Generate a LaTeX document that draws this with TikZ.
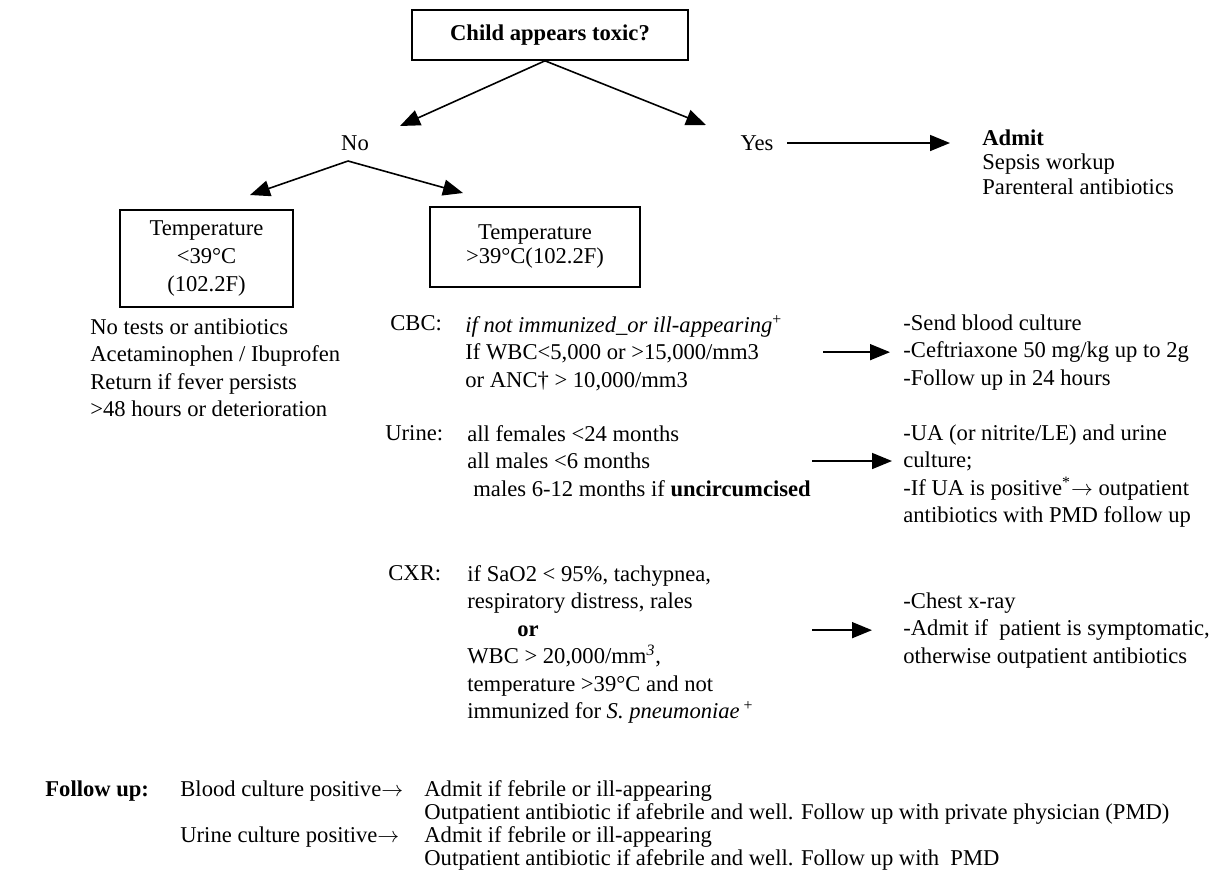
\documentclass[tikz,border=0pt]{standalone}
\usepackage{fontspec}
\setmainfont{Liberation Serif}
\usetikzlibrary{arrows.meta}

\tikzset{
  box/.style={draw, line width=0.8pt, align=center, inner sep=0pt},
  txt/.style={anchor=north west, align=left, inner sep=0pt},
  tight/.style={txt, font=\fontsize{11.3}{11.5}\selectfont},
  arr/.style={-{Triangle[length=10pt,width=8pt]}, line width=0.8pt},
}

\begin{document}
\fontsize{11.3}{13.75}\selectfont
\begin{tikzpicture}[x=0.5pt,y=-0.5pt]
\useasboundingbox (0,0) rectangle (1228,880);
\node [box, minimum width=138pt, minimum height=25pt, font=\bfseries] (toxic) at (550,35) {Child appears toxic?};
\node (no) at (355,143) {No};
\node (yes) at (757,143) {Yes};
\coordinate (noTip) at (400,126);
\coordinate (yesTip) at (706,125);
\draw [arr] ([xshift=-2.5pt]toxic.south) -- (noTip);
\draw [arr] ([xshift=-2.5pt]toxic.south) -- (yesTip);

\node [txt, font=\fontsize{11.3}{12.3}\selectfont] (admit) at (982,129) {\textbf{Admit}\\Sepsis workup\\Parenteral antibiotics};
\draw [arr, shorten <=3pt, shorten >=16pt] (yes.east) -- (yes.east -| admit.west);

\coordinate (noFork) at (348,161);
\coordinate (lowTip) at (250,195);
\coordinate (highTip) at (463,193);
\draw [arr] (noFork) -- (lowTip);
\draw [arr] (noFork) -- (highTip);

\node [box, minimum width=86.5pt, minimum height=48.5pt, font=\fontsize{11.3}{14.2}\selectfont] (lowT) at (206.5,258.5) {Temperature\\<39°C\\(102.2F)};
\node [box, minimum width=105pt, minimum height=40pt, font=\fontsize{11.3}{12}\selectfont, text depth=3pt] (highT) at (535,247) {Temperature\\>39°C(102.2F)};
\node [txt] (lowList) at (90,318) {No tests or antibiotics\\Acetaminophen / Ibuprofen\\Return if fever persists\\>48 hours or deterioration};

% CBC
\node [txt] (cbcLbl) at (390,315) {CBC:};
\node [txt] (cbcTxt) at (465,315) {\textit{if not immunized\_or ill-appearing}\textsuperscript{+}\\If WBC<5,000 or >15,000/mm3\\or ANC\textdagger{} > 10,000/mm3};
\node [txt] (cbcRes) at (903,314) {-Send blood culture\\-Ceftriaxone 50 mg/kg up to 2g\\-Follow up in 24 hours};
\draw [arr] ([xshift=-40pt]cbcRes.west) -- ([xshift=-6.5pt]cbcRes.west);

% urine
\node [txt] (urineLbl) at (385,425) {Urine:};
\node [txt] (urineTxt) at (467,425) {all females <24 months\\all males <6 months\\\hspace*{3pt}males 6-12 months if \textbf{uncircumcised}};
\node [txt] (urineRes) at (903,424) {-UA (or nitrite/LE) and urine\\culture;\\-If UA is positive\textsuperscript{*}$\rightarrow$ outpatient\\antibiotics with PMD follow up};
\draw [arr] ([xshift=-45.5pt]urineTxt.east -| urineRes.west) -- ([xshift=-5.5pt]urineTxt.east -| urineRes.west);

% CXR
\node [txt] (cxrLbl) at (388,565) {CXR:};
\node [txt] (cxrTxt) at (467,565) {if SaO2 < 95\%, tachypnea,\\respiratory distress, rales\\\hspace*{25pt}\textbf{or}\\WBC > 20,000/mm\textsuperscript{\itshape 3},\\temperature >39°C and not\\immunized for \textit{S. pneumoniae}\,\textsuperscript{+}};
\node [txt] (cxrRes) at (903,592) {-Chest x-ray\\-Admit if\ \ patient is symptomatic,\\otherwise outpatient antibiotics};
\draw [arr] ([xshift=-45.5pt]cxrRes.west) -- ([xshift=-15.5pt]cxrRes.west);

% follow up
\node [tight, font=\fontsize{11.3}{11.5}\selectfont\bfseries] (follow) at (45,780) {Follow up:};
\node [tight] (bloodPos) at (180,780) {Blood culture positive$\rightarrow$};
\node [tight] (bloodRes) at (424,780) {Admit if febrile or ill-appearing\\Outpatient antibiotic if afebrile and well. Follow up with private physician (PMD)};
\node [tight] (urinePos) at (180,826) {Urine culture positive$\rightarrow$};
\node [tight] (urineFRes) at (424,826) {Admit if febrile or ill-appearing\\Outpatient antibiotic if afebrile and well. Follow up with\ \ PMD};
\end{tikzpicture}
\end{document}
